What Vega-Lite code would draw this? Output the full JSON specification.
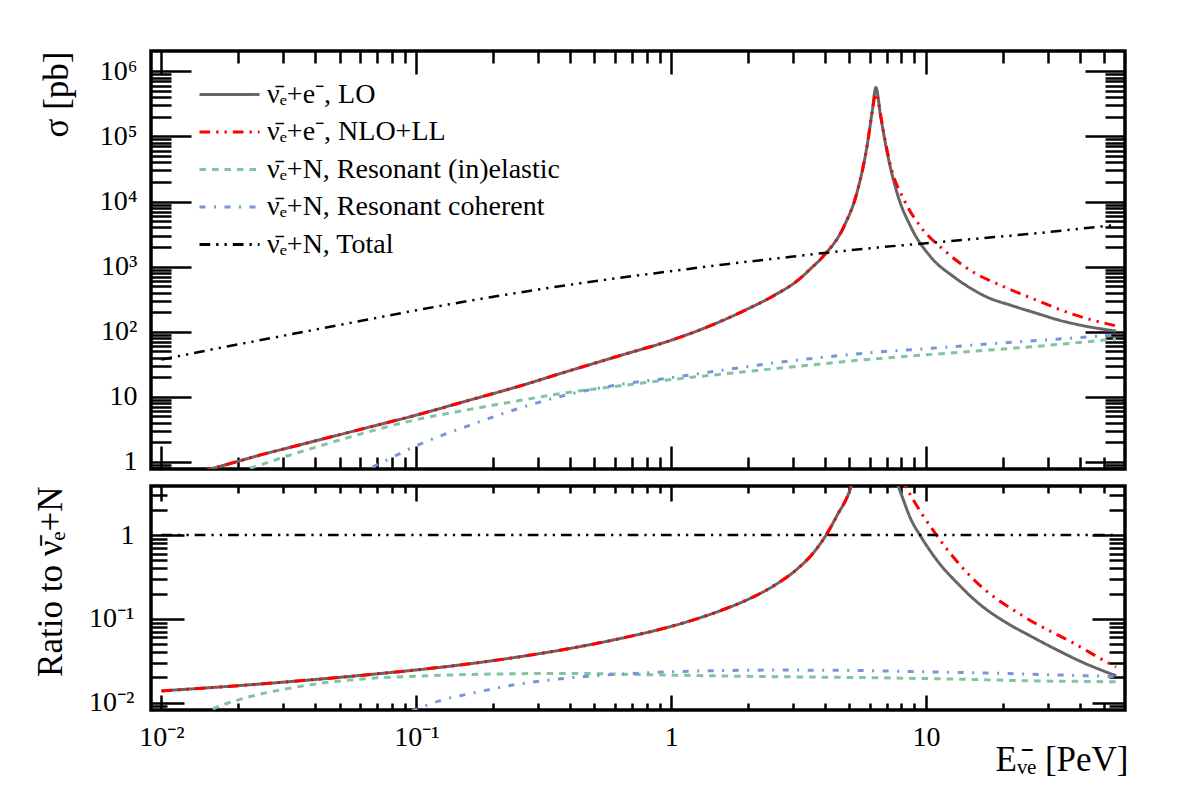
{
  "$schema": "https://vega.github.io/schema/vega-lite/v6.json",
  "padding": {"left": 31, "top": 48, "right": 5, "bottom": 5},
  "background": "white",
  "config": {
    "view": {"stroke": "black", "strokeWidth": 3.5},
    "axis": {"domain": false, "grid": false, "tickColor": "black", "tickWidth": 2.5, "labelFont": "Liberation Serif", "labelFontSize": 28, "labelColor": "black", "titleFont": "Liberation Serif", "titleFontSize": 35, "titleFontWeight": "normal", "titleColor": "black", "labelOverlap": false, "labelFlush": false, "zindex": 1},
    "legend": {"orient": "none", "legendX": 62, "legendY": 27, "symbolType": "M-2,0H2", "symbolSize": 900, "symbolStrokeWidth": 3, "labelFont": "Liberation Serif", "labelFontSize": 28, "labelColor": "black", "labelLimit": 0, "rowPadding": 6.5, "labelOffset": 21}
  },
  "datasets": {
    "upper": [
      {"E": 0.01, "sigma": 0.479, "s": "LO"}, {"E": 0.01259, "sigma": 0.617, "s": "LO"}, {"E": 0.01585, "sigma": 0.794, "s": "LO"}, {"E": 0.01995, "sigma": 1.023, "s": "LO"}, {"E": 0.02512, "sigma": 1.318, "s": "LO"}, {"E": 0.03162, "sigma": 1.66, "s": "LO"}, {"E": 0.03981, "sigma": 2.089, "s": "LO"}, {"E": 0.0631, "sigma": 3.311, "s": "LO"}, {"E": 0.1, "sigma": 5.248, "s": "LO"}, {"E": 0.1585, "sigma": 8.71, "s": "LO"}, {"E": 0.2512, "sigma": 14.45, "s": "LO"}, {"E": 0.3981, "sigma": 25.12, "s": "LO"}, {"E": 0.631, "sigma": 43.15, "s": "LO"}, {"E": 1, "sigma": 74.13, "s": "LO"}, {"E": 1.259, "sigma": 102.3, "s": "LO"}, {"E": 1.585, "sigma": 147.9, "s": "LO"}, {"E": 1.995, "sigma": 223.9, "s": "LO"}, {"E": 2.512, "sigma": 354.8, "s": "LO"}, {"E": 3.162, "sigma": 631, "s": "LO"}, {"E": 3.548, "sigma": 955, "s": "LO"}, {"E": 3.972, "sigma": 1479, "s": "LO"}, {"E": 4.764, "sigma": 4169, "s": "LO"}, {"E": 5.383, "sigma": 14790, "s": "LO"}, {"E": 5.888, "sigma": 77620, "s": "LO"}, {"E": 6.152, "sigma": 251200, "s": "LO"}, {"E": 6.353, "sigma": 562300, "s": "LO"}, {"E": 6.637, "sigma": 199500, "s": "LO"}, {"E": 7.047, "sigma": 54950, "s": "LO"}, {"E": 7.709, "sigma": 13180, "s": "LO"}, {"E": 8.71, "sigma": 4074, "s": "LO"}, {"E": 10.42, "sigma": 1413, "s": "LO"}, {"E": 12.88, "sigma": 691.8, "s": "LO"}, {"E": 14.79, "sigma": 478.6, "s": "LO"}, {"E": 17.38, "sigma": 338.8, "s": "LO"}, {"E": 21.38, "sigma": 257, "s": "LO"}, {"E": 27.29, "sigma": 190.5, "s": "LO"}, {"E": 33.11, "sigma": 151.4, "s": "LO"}, {"E": 40.46, "sigma": 125.9, "s": "LO"}, {"E": 55.6, "sigma": 102.3, "s": "LO"},
      {"E": 0.01, "sigma": 0.479, "s": "NLO"}, {"E": 0.01259, "sigma": 0.617, "s": "NLO"}, {"E": 0.01585, "sigma": 0.794, "s": "NLO"}, {"E": 0.01995, "sigma": 1.023, "s": "NLO"}, {"E": 0.02512, "sigma": 1.318, "s": "NLO"}, {"E": 0.03162, "sigma": 1.66, "s": "NLO"}, {"E": 0.03981, "sigma": 2.089, "s": "NLO"}, {"E": 0.0631, "sigma": 3.311, "s": "NLO"}, {"E": 0.1, "sigma": 5.248, "s": "NLO"}, {"E": 0.1585, "sigma": 8.71, "s": "NLO"}, {"E": 0.2512, "sigma": 14.45, "s": "NLO"}, {"E": 0.3981, "sigma": 25.12, "s": "NLO"}, {"E": 0.631, "sigma": 43.15, "s": "NLO"}, {"E": 1, "sigma": 74.13, "s": "NLO"}, {"E": 1.259, "sigma": 102.3, "s": "NLO"}, {"E": 1.585, "sigma": 147.9, "s": "NLO"}, {"E": 1.995, "sigma": 223.9, "s": "NLO"}, {"E": 2.512, "sigma": 354.8, "s": "NLO"}, {"E": 3.162, "sigma": 631, "s": "NLO"}, {"E": 3.548, "sigma": 955, "s": "NLO"}, {"E": 3.972, "sigma": 1479, "s": "NLO"}, {"E": 4.764, "sigma": 4169, "s": "NLO"}, {"E": 5.383, "sigma": 14790, "s": "NLO"}, {"E": 5.888, "sigma": 77620, "s": "NLO"}, {"E": 6.152, "sigma": 245000, "s": "NLO"}, {"E": 6.353, "sigma": 457100, "s": "NLO"}, {"E": 6.637, "sigma": 208900, "s": "NLO"}, {"E": 6.918, "sigma": 83180, "s": "NLO"}, {"E": 7.278, "sigma": 33880, "s": "NLO"}, {"E": 8.204, "sigma": 10470, "s": "NLO"}, {"E": 9.528, "sigma": 4074, "s": "NLO"}, {"E": 11.78, "sigma": 1778, "s": "NLO"}, {"E": 14.96, "sigma": 871, "s": "NLO"}, {"E": 20.23, "sigma": 489.8, "s": "NLO"}, {"E": 27.29, "sigma": 302, "s": "NLO"}, {"E": 36.9, "sigma": 190.5, "s": "NLO"}, {"E": 55.6, "sigma": 123, "s": "NLO"},
      {"E": 0.01, "sigma": 0.158, "s": "inel"}, {"E": 0.01259, "sigma": 0.282, "s": "inel"}, {"E": 0.01585, "sigma": 0.468, "s": "inel"}, {"E": 0.01995, "sigma": 0.692, "s": "inel"}, {"E": 0.02512, "sigma": 0.933, "s": "inel"}, {"E": 0.03162, "sigma": 1.259, "s": "inel"}, {"E": 0.03981, "sigma": 1.66, "s": "inel"}, {"E": 0.0631, "sigma": 2.818, "s": "inel"}, {"E": 0.1, "sigma": 4.467, "s": "inel"}, {"E": 0.1585, "sigma": 6.31, "s": "inel"}, {"E": 0.2512, "sigma": 8.71, "s": "inel"}, {"E": 0.3981, "sigma": 11.75, "s": "inel"}, {"E": 0.631, "sigma": 14.79, "s": "inel"}, {"E": 1, "sigma": 18.41, "s": "inel"}, {"E": 1.585, "sigma": 22.39, "s": "inel"}, {"E": 2.512, "sigma": 26.92, "s": "inel"}, {"E": 3.981, "sigma": 32.36, "s": "inel"}, {"E": 6.31, "sigma": 38.46, "s": "inel"}, {"E": 10, "sigma": 44.16, "s": "inel"}, {"E": 15.85, "sigma": 50.7, "s": "inel"}, {"E": 25.12, "sigma": 58.21, "s": "inel"}, {"E": 39.81, "sigma": 68.39, "s": "inel"}, {"E": 55.6, "sigma": 77.62, "s": "inel"},
      {"E": 0.03981, "sigma": 0.158, "s": "coh"}, {"E": 0.05012, "sigma": 0.355, "s": "coh"}, {"E": 0.0631, "sigma": 0.724, "s": "coh"}, {"E": 0.07943, "sigma": 1.148, "s": "coh"}, {"E": 0.1, "sigma": 1.778, "s": "coh"}, {"E": 0.1585, "sigma": 3.548, "s": "coh"}, {"E": 0.2512, "sigma": 6.607, "s": "coh"}, {"E": 0.3981, "sigma": 10.96, "s": "coh"}, {"E": 0.631, "sigma": 15.49, "s": "coh"}, {"E": 1, "sigma": 19.72, "s": "coh"}, {"E": 1.585, "sigma": 25.7, "s": "coh"}, {"E": 2.512, "sigma": 33.11, "s": "coh"}, {"E": 3.981, "sigma": 40.74, "s": "coh"}, {"E": 6.31, "sigma": 48.42, "s": "coh"}, {"E": 10, "sigma": 54.95, "s": "coh"}, {"E": 15.85, "sigma": 63.1, "s": "coh"}, {"E": 25.12, "sigma": 71.61, "s": "coh"}, {"E": 39.81, "sigma": 81.28, "s": "coh"}, {"E": 55.6, "sigma": 89.13, "s": "coh"},
      {"E": 0.01, "sigma": 37.58, "s": "tot"}, {"E": 0.01259, "sigma": 44.67, "s": "tot"}, {"E": 0.01585, "sigma": 53.7, "s": "tot"}, {"E": 0.02512, "sigma": 75.86, "s": "tot"}, {"E": 0.03981, "sigma": 107.2, "s": "tot"}, {"E": 0.0631, "sigma": 151.4, "s": "tot"}, {"E": 0.1, "sigma": 213.8, "s": "tot"}, {"E": 0.1585, "sigma": 295.1, "s": "tot"}, {"E": 0.2512, "sigma": 398.1, "s": "tot"}, {"E": 0.3981, "sigma": 524.8, "s": "tot"}, {"E": 0.631, "sigma": 676.1, "s": "tot"}, {"E": 1, "sigma": 851.1, "s": "tot"}, {"E": 1.585, "sigma": 1072, "s": "tot"}, {"E": 2.512, "sigma": 1318, "s": "tot"}, {"E": 3.981, "sigma": 1622, "s": "tot"}, {"E": 6.31, "sigma": 1950, "s": "tot"}, {"E": 10, "sigma": 2291, "s": "tot"}, {"E": 15.85, "sigma": 2692, "s": "tot"}, {"E": 25.12, "sigma": 3162, "s": "tot"}, {"E": 39.81, "sigma": 3802, "s": "tot"}, {"E": 55.6, "sigma": 4365, "s": "tot"}
    ],
    "lower": [
      {"E": 0.01, "ratio": 0.0138, "s": "LO"}, {"E": 0.01585, "ratio": 0.01514, "s": "LO"}, {"E": 0.02512, "ratio": 0.01679, "s": "LO"}, {"E": 0.03981, "ratio": 0.01884, "s": "LO"}, {"E": 0.0631, "ratio": 0.02138, "s": "LO"}, {"E": 0.1, "ratio": 0.02455, "s": "LO"}, {"E": 0.1585, "ratio": 0.02884, "s": "LO"}, {"E": 0.2512, "ratio": 0.03508, "s": "LO"}, {"E": 0.3981, "ratio": 0.04416, "s": "LO"}, {"E": 0.631, "ratio": 0.05821, "s": "LO"}, {"E": 1, "ratio": 0.08128, "s": "LO"}, {"E": 1.259, "ratio": 0.1, "s": "LO"}, {"E": 1.585, "ratio": 0.1274, "s": "LO"}, {"E": 1.995, "ratio": 0.1698, "s": "LO"}, {"E": 2.512, "ratio": 0.2455, "s": "LO"}, {"E": 3.162, "ratio": 0.4074, "s": "LO"}, {"E": 3.548, "ratio": 0.5754, "s": "LO"}, {"E": 3.981, "ratio": 0.9204, "s": "LO"}, {"E": 4.467, "ratio": 1.698, "s": "LO"}, {"E": 5.07, "ratio": 3.802, "s": "LO"}, {"E": 5.37, "ratio": 7.586, "s": "LO"}, {"E": 5.754, "ratio": 25.12, "s": "LO"}, {"E": 6.353, "ratio": 100, "s": "LO"}, {"E": 6.637, "ratio": 25.12, "s": "LO"}, {"E": 7.047, "ratio": 9.12, "s": "LO"}, {"E": 7.413, "ratio": 5.623, "s": "LO"}, {"E": 7.962, "ratio": 3.162, "s": "LO"}, {"E": 8.71, "ratio": 1.549, "s": "LO"}, {"E": 9.528, "ratio": 0.9638, "s": "LO"}, {"E": 11.22, "ratio": 0.4677, "s": "LO"}, {"E": 13.27, "ratio": 0.2661, "s": "LO"}, {"E": 15.85, "ratio": 0.1585, "s": "LO"}, {"E": 20.84, "ratio": 0.0883, "s": "LO"}, {"E": 25.12, "ratio": 0.06457, "s": "LO"}, {"E": 32.73, "ratio": 0.04236, "s": "LO"}, {"E": 39.81, "ratio": 0.03162, "s": "LO"}, {"E": 55.6, "ratio": 0.0209, "s": "LO"},
      {"E": 0.01, "ratio": 0.0138, "s": "NLO"}, {"E": 0.01585, "ratio": 0.01514, "s": "NLO"}, {"E": 0.02512, "ratio": 0.01679, "s": "NLO"}, {"E": 0.03981, "ratio": 0.01884, "s": "NLO"}, {"E": 0.0631, "ratio": 0.02138, "s": "NLO"}, {"E": 0.1, "ratio": 0.02455, "s": "NLO"}, {"E": 0.1585, "ratio": 0.02884, "s": "NLO"}, {"E": 0.2512, "ratio": 0.03508, "s": "NLO"}, {"E": 0.3981, "ratio": 0.04416, "s": "NLO"}, {"E": 0.631, "ratio": 0.05821, "s": "NLO"}, {"E": 1, "ratio": 0.08128, "s": "NLO"}, {"E": 1.259, "ratio": 0.1, "s": "NLO"}, {"E": 1.585, "ratio": 0.1274, "s": "NLO"}, {"E": 1.995, "ratio": 0.1698, "s": "NLO"}, {"E": 2.512, "ratio": 0.2455, "s": "NLO"}, {"E": 3.162, "ratio": 0.4074, "s": "NLO"}, {"E": 3.548, "ratio": 0.5754, "s": "NLO"}, {"E": 3.981, "ratio": 0.9204, "s": "NLO"}, {"E": 4.467, "ratio": 1.698, "s": "NLO"}, {"E": 5.07, "ratio": 3.802, "s": "NLO"}, {"E": 5.37, "ratio": 7.586, "s": "NLO"}, {"E": 5.754, "ratio": 25.12, "s": "NLO"}, {"E": 6.353, "ratio": 79.4, "s": "NLO"}, {"E": 6.637, "ratio": 22.39, "s": "NLO"}, {"E": 7.079, "ratio": 11.22, "s": "NLO"}, {"E": 7.586, "ratio": 6.607, "s": "NLO"}, {"E": 8.318, "ratio": 3.802, "s": "NLO"}, {"E": 11.07, "ratio": 0.9638, "s": "NLO"}, {"E": 15.42, "ratio": 0.2917, "s": "NLO"}, {"E": 24.21, "ratio": 0.1062, "s": "NLO"}, {"E": 38.02, "ratio": 0.05093, "s": "NLO"}, {"E": 53.83, "ratio": 0.02799, "s": "NLO"}, {"E": 55.6, "ratio": 0.0266, "s": "NLO"},
      {"E": 0.01, "ratio": 0.00316, "s": "inel"}, {"E": 0.01259, "ratio": 0.00525, "s": "inel"}, {"E": 0.01585, "ratio": 0.00832, "s": "inel"}, {"E": 0.01995, "ratio": 0.01072, "s": "inel"}, {"E": 0.02512, "ratio": 0.01288, "s": "inel"}, {"E": 0.03162, "ratio": 0.01479, "s": "inel"}, {"E": 0.03981, "ratio": 0.0166, "s": "inel"}, {"E": 0.0631, "ratio": 0.01928, "s": "inel"}, {"E": 0.1, "ratio": 0.02065, "s": "inel"}, {"E": 0.1585, "ratio": 0.02163, "s": "inel"}, {"E": 0.2512, "ratio": 0.02213, "s": "inel"}, {"E": 0.3981, "ratio": 0.02228, "s": "inel"}, {"E": 0.631, "ratio": 0.02188, "s": "inel"}, {"E": 1, "ratio": 0.02128, "s": "inel"}, {"E": 1.585, "ratio": 0.0208, "s": "inel"}, {"E": 2.512, "ratio": 0.02042, "s": "inel"}, {"E": 3.981, "ratio": 0.0201, "s": "inel"}, {"E": 6.31, "ratio": 0.01982, "s": "inel"}, {"E": 10, "ratio": 0.01936, "s": "inel"}, {"E": 15.85, "ratio": 0.01884, "s": "inel"}, {"E": 25.12, "ratio": 0.0182, "s": "inel"}, {"E": 39.81, "ratio": 0.01791, "s": "inel"}, {"E": 55.6, "ratio": 0.0177, "s": "inel"},
      {"E": 0.0631, "ratio": 0.00479, "s": "coh"}, {"E": 0.07943, "ratio": 0.00631, "s": "coh"}, {"E": 0.1, "ratio": 0.00832, "s": "coh"}, {"E": 0.1259, "ratio": 0.01072, "s": "coh"}, {"E": 0.1585, "ratio": 0.01259, "s": "coh"}, {"E": 0.2512, "ratio": 0.0166, "s": "coh"}, {"E": 0.3981, "ratio": 0.01972, "s": "coh"}, {"E": 0.631, "ratio": 0.02188, "s": "coh"}, {"E": 1, "ratio": 0.02328, "s": "coh"}, {"E": 1.585, "ratio": 0.0241, "s": "coh"}, {"E": 2.512, "ratio": 0.02443, "s": "coh"}, {"E": 3.981, "ratio": 0.02438, "s": "coh"}, {"E": 6.31, "ratio": 0.02399, "s": "coh"}, {"E": 10, "ratio": 0.02328, "s": "coh"}, {"E": 15.85, "ratio": 0.02265, "s": "coh"}, {"E": 25.12, "ratio": 0.02188, "s": "coh"}, {"E": 39.81, "ratio": 0.02104, "s": "coh"}, {"E": 55.6, "ratio": 0.02042, "s": "coh"},
      {"E": 0.01, "ratio": 1, "s": "tot"}, {"E": 55.6, "ratio": 1, "s": "tot"}
    ]
  },
  "resolve": {"scale": {"color": "independent", "strokeDash": "independent"}},
  "bounds": "flush",
  "spacing": 17,
  "vconcat": [
    {
      "width": 974,
      "height": 418,
      "data": {"name": "upper"},
      "encoding": {
        "x": {"field": "E", "type": "quantitative", "scale": {"type": "log", "domain": [0.0091, 60.3]}},
        "y": {"field": "sigma", "type": "quantitative", "scale": {"type": "log", "domain": [0.78, 2050000]}},
        "color": {"field": "s", "type": "nominal", "scale": {"domain": ["LO", "NLO", "inel", "coh", "tot"], "range": ["#666666", "#ff0000", "#80c4a0", "#7896d7", "#000000"]}, "legend": {"title": null, "labelExpr": "datum.value=='LO'?'ν̄ₑ+e⁻, LO':datum.value=='NLO'?'ν̄ₑ+e⁻, NLO+LL':datum.value=='inel'?'ν̄ₑ+N, Resonant (in)elastic':datum.value=='coh'?'ν̄ₑ+N, Resonant coherent':'ν̄ₑ+N, Total'"}},
        "strokeDash": {"field": "s", "type": "nominal", "scale": {"domain": ["LO", "NLO", "inel", "coh", "tot"], "range": [[1, 0], [10.7, 6, 2.3, 6, 2.3, 6], [6.5, 6], [6, 8.5, 2, 8.5], [10.7, 6, 2.3, 6, 2.3, 6]]}, "legend": {"title": null, "labelExpr": "datum.value=='LO'?'ν̄ₑ+e⁻, LO':datum.value=='NLO'?'ν̄ₑ+e⁻, NLO+LL':datum.value=='inel'?'ν̄ₑ+N, Resonant (in)elastic':datum.value=='coh'?'ν̄ₑ+N, Resonant coherent':'ν̄ₑ+N, Total'"}}
      },
      "layer": [
        {
          "transform": [{"filter": "datum.s != 'tot'"}],
          "mark": {"type": "line", "clip": true, "strokeWidth": 3, "interpolate": "monotone"},
          "encoding": {
            "x": {"field": "E", "type": "quantitative", "axis": {"orient": "bottom", "title": null, "labels": false, "values": [0.01, 0.02, 0.03, 0.04, 0.05, 0.06, 0.07, 0.08, 0.09, 0.1, 0.2, 0.3, 0.4, 0.5, 0.6, 0.7, 0.8, 0.9, 1, 2, 3, 4, 5, 6, 7, 8, 9, 10, 20, 30, 40, 50], "tickSize": {"condition": {"test": "indexof([0.01,0.1,1,10], datum.value) >= 0", "value": -23}, "value": -12}}},
            "y": {"field": "sigma", "type": "quantitative", "axis": {"orient": "left", "title": "σ [pb]", "titleX": -84, "titleY": 0, "titleAlign": "right", "titleAngle": -90, "titleBaseline": "alphabetic", "values": [0.8, 0.9, 1, 2, 3, 4, 5, 6, 7, 8, 9, 10, 20, 30, 40, 50, 60, 70, 80, 90, 100, 200, 300, 400, 500, 600, 700, 800, 900, 1000, 2000, 3000, 4000, 5000, 6000, 7000, 8000, 9000, 10000, 20000, 30000, 40000, 50000, 60000, 70000, 80000, 90000, 100000, 200000, 300000, 400000, 500000, 600000, 700000, 800000, 900000, 1000000], "tickSize": {"condition": {"test": "indexof([1,10,100,1000,10000,100000,1000000], datum.value) >= 0", "value": -40}, "value": -20}, "labelPadding": 54, "labelExpr": "datum.value==1?'1':datum.value==10?'10':datum.value==100?'10²':datum.value==1000?'10³':datum.value==10000?'10⁴':datum.value==100000?'10⁵':datum.value==1000000?'10⁶':''"}}
          }
        },
        {
          "transform": [{"filter": "datum.s == 'tot'"}],
          "mark": {"type": "line", "clip": true, "strokeWidth": 2.5, "interpolate": "monotone"},
          "encoding": {
            "x": {"field": "E", "type": "quantitative", "axis": {"orient": "top", "title": null, "labels": false, "values": [0.01, 0.02, 0.03, 0.04, 0.05, 0.06, 0.07, 0.08, 0.09, 0.1, 0.2, 0.3, 0.4, 0.5, 0.6, 0.7, 0.8, 0.9, 1, 2, 3, 4, 5, 6, 7, 8, 9, 10, 20, 30, 40, 50], "tickSize": {"condition": {"test": "indexof([0.01,0.1,1,10], datum.value) >= 0", "value": -23}, "value": -12}}},
            "y": {"field": "sigma", "type": "quantitative", "axis": {"orient": "right", "title": null, "labels": false, "values": [0.8, 0.9, 1, 2, 3, 4, 5, 6, 7, 8, 9, 10, 20, 30, 40, 50, 60, 70, 80, 90, 100, 200, 300, 400, 500, 600, 700, 800, 900, 1000, 2000, 3000, 4000, 5000, 6000, 7000, 8000, 9000, 10000, 20000, 30000, 40000, 50000, 60000, 70000, 80000, 90000, 100000, 200000, 300000, 400000, 500000, 600000, 700000, 800000, 900000, 1000000], "tickSize": {"condition": {"test": "indexof([1,10,100,1000,10000,100000,1000000], datum.value) >= 0", "value": -40}, "value": -20}}}
          }
        }
      ],
      "resolve": {"axis": {"x": "independent", "y": "independent"}}
    },
    {
      "width": 974,
      "height": 224,
      "data": {"name": "lower"},
      "encoding": {
        "x": {"field": "E", "type": "quantitative", "scale": {"type": "log", "domain": [0.0091, 60.3]}},
        "y": {"field": "ratio", "type": "quantitative", "scale": {"type": "log", "domain": [0.00816, 3.85]}},
        "color": {"field": "s", "type": "nominal", "scale": {"domain": ["LO", "NLO", "inel", "coh", "tot"], "range": ["#666666", "#ff0000", "#80c4a0", "#7896d7", "#000000"]}, "legend": null},
        "strokeDash": {"field": "s", "type": "nominal", "scale": {"domain": ["LO", "NLO", "inel", "coh", "tot"], "range": [[1, 0], [10.7, 6, 2.3, 6, 2.3, 6], [6.5, 6], [6, 8.5, 2, 8.5], [10.7, 6, 2.3, 6, 2.3, 6]]}, "legend": null}
      },
      "layer": [
        {
          "transform": [{"filter": "datum.s != 'tot'"}],
          "mark": {"type": "line", "clip": true, "strokeWidth": 3, "interpolate": "monotone"},
          "encoding": {
            "x": {"field": "E", "type": "quantitative", "axis": {"orient": "bottom", "title": "Eᵥ̄ₑ [PeV]", "titleX": 977, "titleY": 60, "titleAlign": "right", "titleAnchor": "end", "titleBaseline": "alphabetic", "values": [0.01, 0.02, 0.03, 0.04, 0.05, 0.06, 0.07, 0.08, 0.09, 0.1, 0.2, 0.3, 0.4, 0.5, 0.6, 0.7, 0.8, 0.9, 1, 2, 3, 4, 5, 6, 7, 8, 9, 10, 20, 30, 40, 50], "tickSize": {"condition": {"test": "indexof([0.01,0.1,1,10], datum.value) >= 0", "value": -15}, "value": -7}, "labelPadding": 28, "labelExpr": "datum.value==0.01?'10⁻²':datum.value==0.1?'10⁻¹':datum.value==1?'1':datum.value==10?'10':''"}},
            "y": {"field": "ratio", "type": "quantitative", "axis": {"orient": "left", "title": "Ratio to ν̄ₑ+N", "titleX": -90, "titleY": 0, "titleAlign": "right", "titleAngle": -90, "titleBaseline": "alphabetic", "values": [0.009, 0.01, 0.02, 0.03, 0.04, 0.05, 0.06, 0.07, 0.08, 0.09, 0.1, 0.2, 0.3, 0.4, 0.5, 0.6, 0.7, 0.8, 0.9, 1, 2, 3], "tickSize": {"condition": {"test": "indexof([0.01,0.1,1], datum.value) >= 0", "value": -33}, "value": -16}, "labelPadding": 50, "labelExpr": "datum.value==0.01?'10⁻²':datum.value==0.1?'10⁻¹':datum.value==1?'1':''"}}
          }
        },
        {
          "transform": [{"filter": "datum.s == 'tot'"}],
          "mark": {"type": "line", "clip": true, "strokeWidth": 2.5},
          "encoding": {
            "x": {"field": "E", "type": "quantitative", "axis": {"orient": "top", "title": null, "labels": false, "values": [0.01, 0.02, 0.03, 0.04, 0.05, 0.06, 0.07, 0.08, 0.09, 0.1, 0.2, 0.3, 0.4, 0.5, 0.6, 0.7, 0.8, 0.9, 1, 2, 3, 4, 5, 6, 7, 8, 9, 10, 20, 30, 40, 50], "tickSize": {"condition": {"test": "indexof([0.01,0.1,1,10], datum.value) >= 0", "value": -15}, "value": -7}}},
            "y": {"field": "ratio", "type": "quantitative", "axis": {"orient": "right", "title": null, "labels": false, "values": [0.009, 0.01, 0.02, 0.03, 0.04, 0.05, 0.06, 0.07, 0.08, 0.09, 0.1, 0.2, 0.3, 0.4, 0.5, 0.6, 0.7, 0.8, 0.9, 1, 2, 3], "tickSize": {"condition": {"test": "indexof([0.01,0.1,1], datum.value) >= 0", "value": -33}, "value": -16}}}
          }
        }
      ],
      "resolve": {"axis": {"x": "independent", "y": "independent"}}
    }
  ]
}
